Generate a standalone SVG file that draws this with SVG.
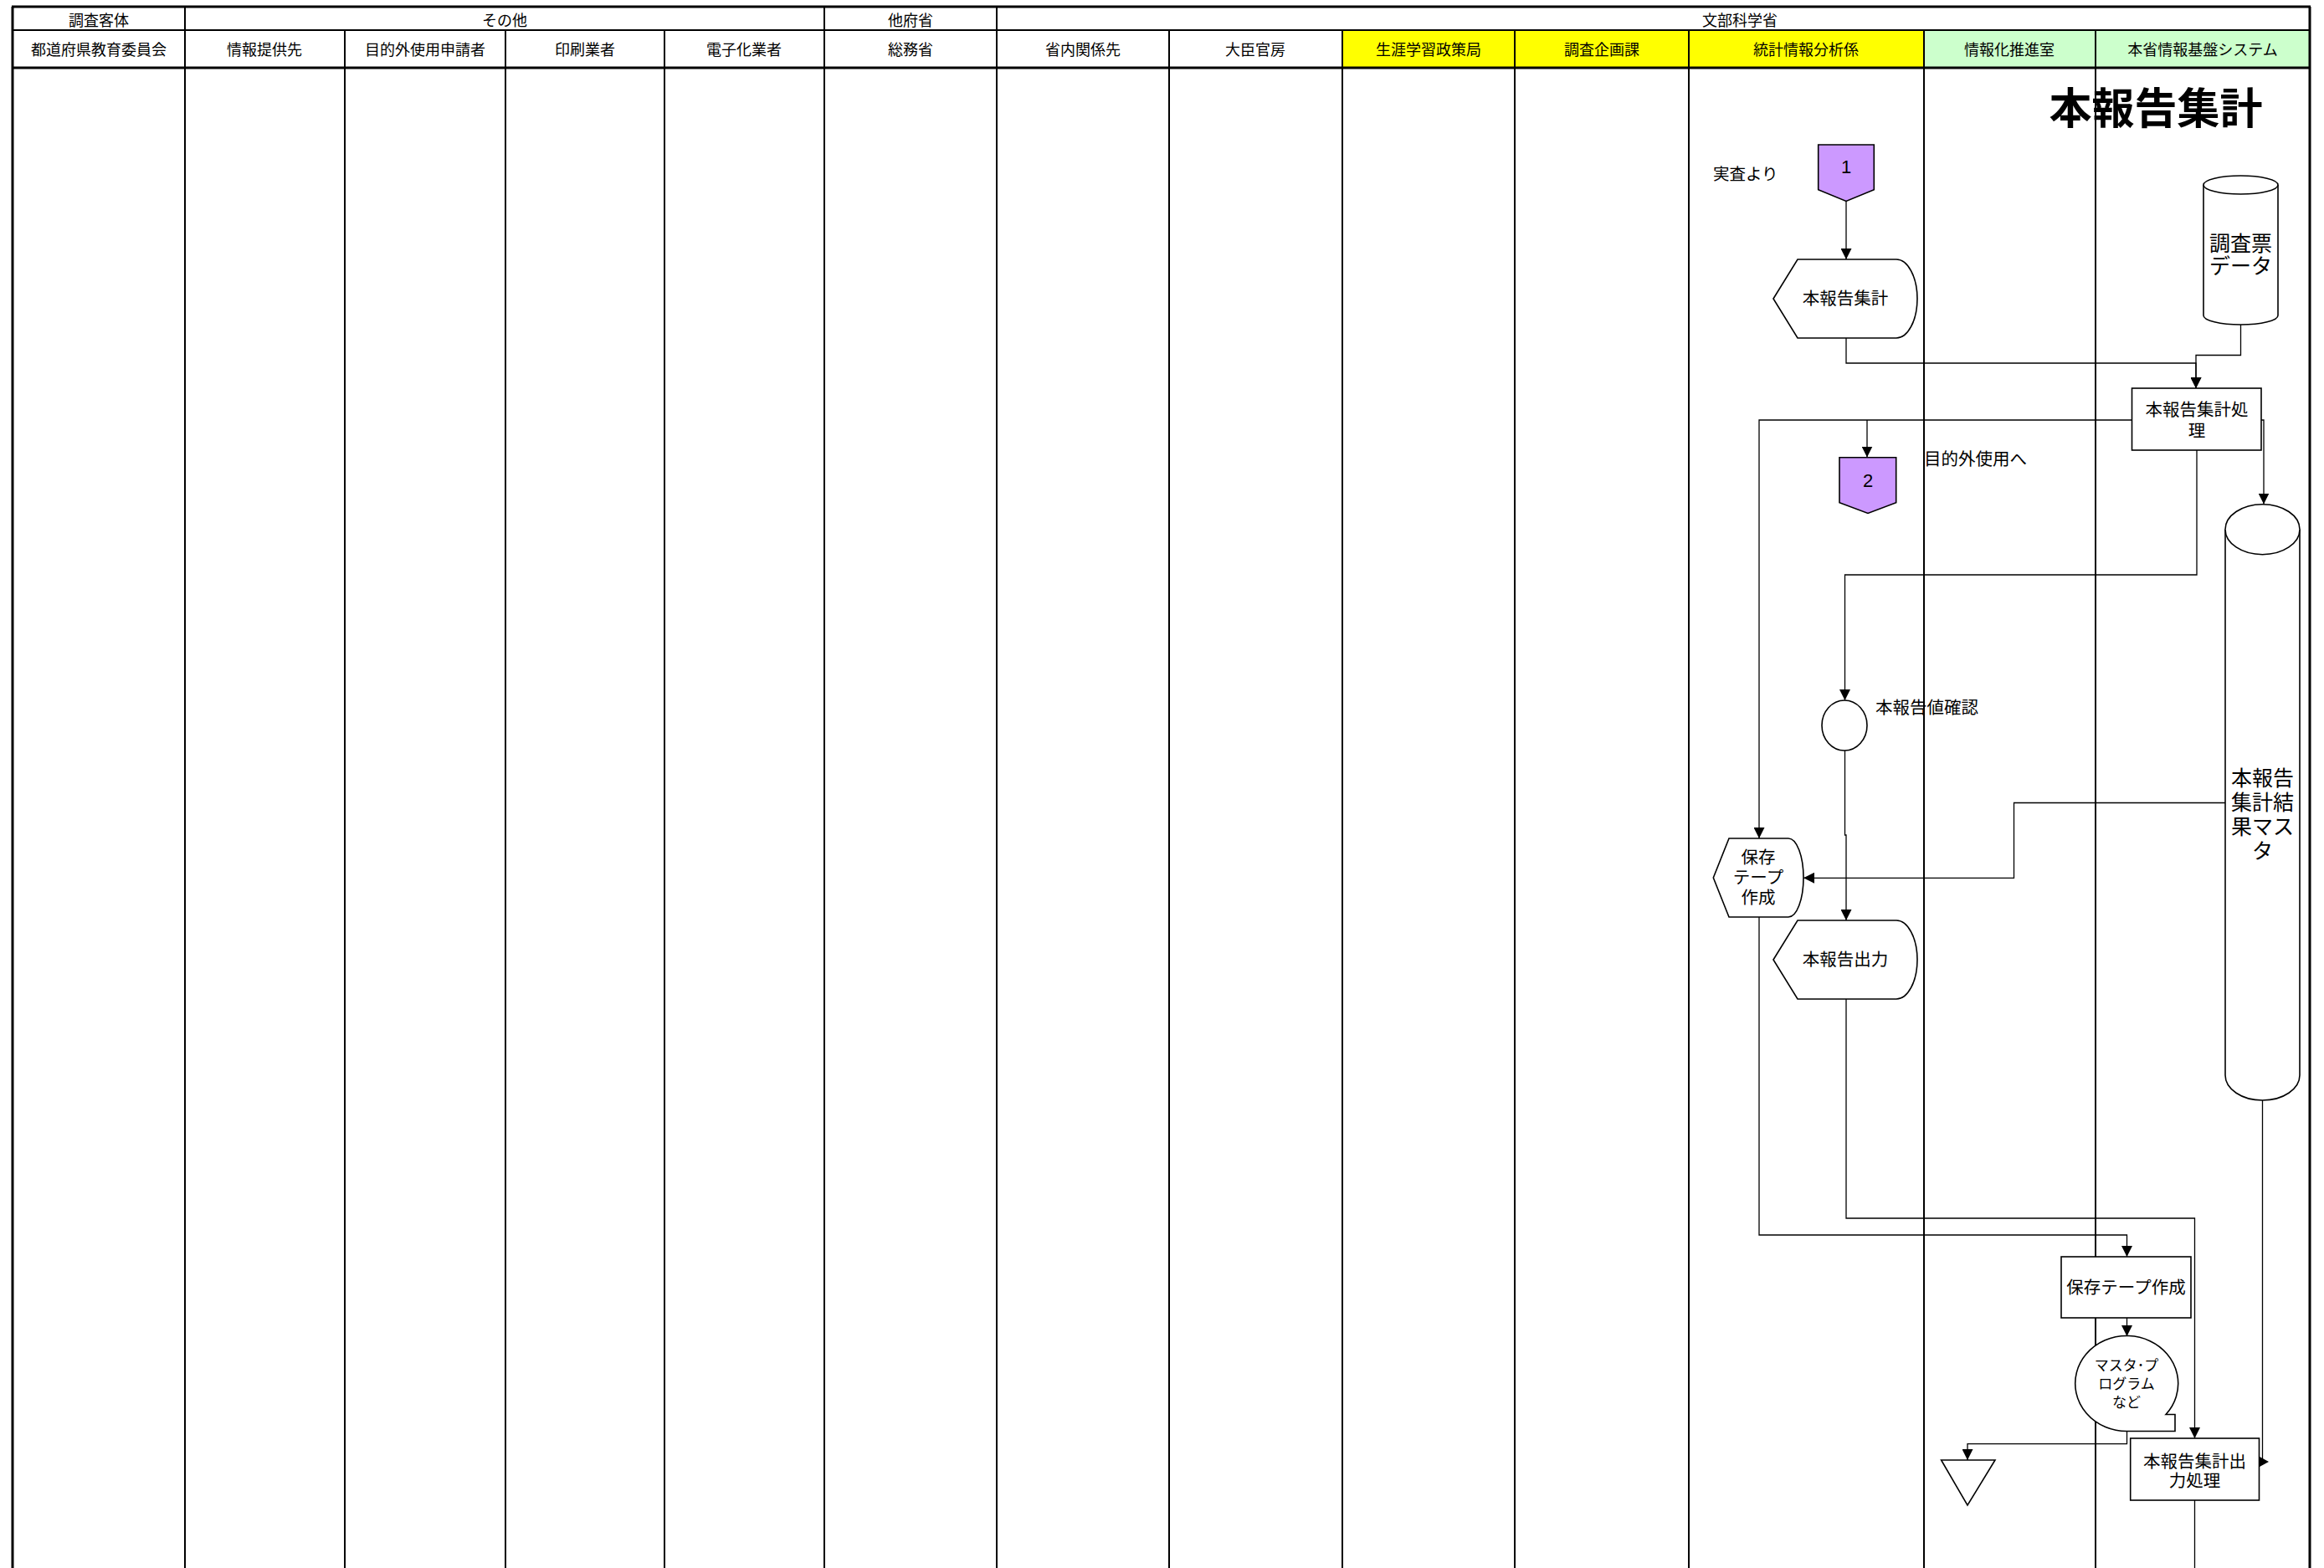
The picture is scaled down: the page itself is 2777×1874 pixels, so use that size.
<svg xmlns="http://www.w3.org/2000/svg" width="2777" height="1874" viewBox="0 0 2777 1874">
<defs>
<marker id="ah" markerUnits="userSpaceOnUse" markerWidth="13" markerHeight="13" refX="13" refY="6.5" orient="auto">
<path d="M0,0 L13,6.5 L0,13 Z" fill="#000"/>
</marker>
</defs>
<style>
text{font-family:"Noto Sans CJK JP","Noto Sans CJK SC",sans-serif;fill:#000;dominant-baseline:central}
.h{font-size:18px;text-anchor:middle}
.t{font-size:20.5px;text-anchor:middle}
.l{font-size:20.5px;text-anchor:start}
.c25{font-size:25px;text-anchor:middle}
.c17{font-size:17px;text-anchor:middle}
.lane{stroke:#000;stroke-width:2;fill:none}
.hb{stroke:#000;stroke-width:3;fill:none}
.shp{stroke:#000;stroke-width:1.6;fill:#fff}
.mk{stroke:#000;stroke-width:1.6;fill:#CC99FF}
.cn{stroke:#000;stroke-width:1.3;fill:none}
.ca{stroke:#000;stroke-width:1.3;fill:none;marker-end:url(#ah)}
.num{font-family:"Liberation Sans",Arial,sans-serif;font-size:22px;text-anchor:middle}
</style>
<rect width="2777" height="1874" fill="#fff"/>
<g id="header">
<rect x="1604" y="36" width="206" height="45" fill="#FFFF00"/>
<rect x="1810" y="36" width="208" height="45" fill="#FFFF00"/>
<rect x="2018" y="36" width="281" height="45" fill="#FFFF00"/>
<rect x="2299" y="36" width="205" height="45" fill="#CCFFCC"/>
<rect x="2504" y="36" width="256" height="45" fill="#CCFFCC"/>
<line class="hb" x1="14" y1="8" x2="2761" y2="8"/>
<line class="lane" x1="15" y1="36" x2="2760" y2="36"/>
<line class="hb" x1="14" y1="81" x2="2761" y2="81"/>
<line class="lane" x1="221" y1="8" x2="221" y2="36"/>
<line class="lane" x1="985" y1="8" x2="985" y2="36"/>
<line class="lane" x1="1191" y1="8" x2="1191" y2="36"/>
<text class="h" x="118" y="23">調査客体</text>
<text class="h" x="603" y="23">その他</text>
<text class="h" x="1088" y="23">他府省</text>
<text class="h" x="2079" y="23">文部科学省</text>
<text class="h" x="118" y="58">都道府県教育委員会</text>
<text class="h" x="316" y="58">情報提供先</text>
<text class="h" x="508" y="58">目的外使用申請者</text>
<text class="h" x="699" y="58">印刷業者</text>
<text class="h" x="889" y="58">電子化業者</text>
<text class="h" x="1088" y="58">総務省</text>
<text class="h" x="1294" y="58">省内関係先</text>
<text class="h" x="1500" y="58">大臣官房</text>
<text class="h" x="1707" y="58">生涯学習政策局</text>
<text class="h" x="1914" y="58">調査企画課</text>
<text class="h" x="2158" y="58">統計情報分析係</text>
<text class="h" x="2401" y="58">情報化推進室</text>
<text class="h" x="2632" y="58">本省情報基盤システム</text>
</g>
<g id="lanes">
<line class="hb" x1="15" y1="8" x2="15" y2="1874"/>
<line class="lane" x1="221" y1="36" x2="221" y2="1874"/>
<line class="lane" x1="412" y1="36" x2="412" y2="1874"/>
<line class="lane" x1="604" y1="36" x2="604" y2="1874"/>
<line class="lane" x1="794" y1="36" x2="794" y2="1874"/>
<line class="lane" x1="985" y1="36" x2="985" y2="1874"/>
<line class="lane" x1="1191" y1="36" x2="1191" y2="1874"/>
<line class="lane" x1="1397" y1="36" x2="1397" y2="1874"/>
<line class="lane" x1="1604" y1="36" x2="1604" y2="1874"/>
<line class="lane" x1="1810" y1="36" x2="1810" y2="1874"/>
<line class="lane" x1="2018" y1="36" x2="2018" y2="1874"/>
<line class="lane" x1="2299" y1="36" x2="2299" y2="1874"/>
<line class="lane" x1="2504" y1="36" x2="2504" y2="1874"/>
<line class="hb" x1="2760" y1="8" x2="2760" y2="1874"/>
</g>
<g id="connectors">
<path class="ca" d="M2206,241 V310"/>
<path class="ca" d="M2206,404 V434 H2624 V464"/>
<path class="ca" d="M2677.5,388 V424.5 H2624 V464"/>
<path class="ca" d="M2547.5,502 H2102 V1002"/>
<path class="ca" d="M2231,502 V546.5"/>
<path class="ca" d="M2702,502 H2705 V602.5"/>
<path class="ca" d="M2625,538 V687 H2204.5 V837"/>
<path class="ca" d="M2204.5,897 V998 H2206 V1100"/>
<path class="ca" d="M2659,959.5 H2406.5 V1049.3 H2155"/>
<path class="ca" d="M2102,1096 V1476 H2541.5 V1502"/>
<path class="ca" d="M2206,1194 V1456 H2622.5 V1719"/>
<path class="ca" d="M2541.5,1575 V1597"/>
<path class="ca" d="M2541.5,1710.5 V1725.7 H2351 V1745"/>
<path class="cn" d="M2703.5,1315 V1747"/>
<path d="M2700,1741 L2711,1747 L2700,1753 Z" fill="#000"/>
<path class="cn" d="M2622.5,1793 V1874"/>
</g>
<g id="title">
<text x="2576" y="126" style="font-size:51px;font-weight:bold;text-anchor:middle">本報告集計</text>
</g>
<g id="label-jissa">
<text class="l" x="2047" y="206" style="font-size:19.5px">実査より</text>
</g>
<g id="marker1">
<path class="mk" d="M2172.7,173 H2239.3 V226.7 L2206,240.5 L2172.7,226.7 Z"/>
<text class="num" x="2206" y="199">1</text>
</g>
<g id="display-honhoukoku-shukei">
<path class="shp" d="M2119,357 L2148,310 H2266 A25,47 0 0 1 2266,404 H2148 Z"/>
<text class="t" x="2205" y="355">本報告集計</text>
</g>
<g id="db-chousahyou">
<path class="shp" d="M2633,221 A44.5,11 0 0 1 2722,221 V377 A44.5,11 0 0 1 2633,377 Z"/>
<path class="shp" d="M2633,221 A44.5,11 0 0 0 2722,221" fill="none"/>
<text class="c25" x="2677.5" y="289"><tspan x="2677.5" y="289">調査票</tspan><tspan x="2677.5" y="316">データ</tspan></text>
</g>
<g id="proc-shukei">
<rect class="shp" x="2547.5" y="464" width="154.5" height="74"/>
<text class="t" x="2625" y="488"><tspan x="2625" y="488">本報告集計処</tspan><tspan x="2625" y="513">理</tspan></text>
</g>
<g id="marker2">
<path class="mk" d="M2198,546.7 H2265.7 V600.7 L2232,613.5 L2198,600.7 Z"/>
<text class="num" x="2232" y="574">2</text>
</g>
<g id="label-mokutekigai">
<text class="l" x="2299" y="547">目的外使用へ</text>
</g>
<g id="db-kekka-master">
<path class="shp" d="M2659,632.7 A44.5,30 0 0 1 2748,632.7 V1285 A44.5,30 0 0 1 2659,1285 Z"/>
<path class="shp" d="M2659,632.7 A44.5,30 0 0 0 2748,632.7" fill="none"/>
<text class="c25" x="2703.5" y="928"><tspan x="2703.5" y="928">本報告</tspan><tspan x="2703.5" y="957">集計結</tspan><tspan x="2703.5" y="986">果マス</tspan><tspan x="2703.5" y="1015">タ</tspan></text>
</g>
<g id="check-honhoukokuchi">
<ellipse class="shp" cx="2204" cy="867" rx="27" ry="30"/>
<text class="l" x="2241" y="844">本報告値確認</text>
</g>
<g id="display-hozon-tape">
<path class="shp" d="M2047.3,1049 L2066,1002 H2137 A18,47 0 0 1 2137,1096 H2066 Z"/>
<text class="t" x="2101" y="1023"><tspan x="2101" y="1023">保存</tspan><tspan x="2101" y="1047">テープ</tspan><tspan x="2101" y="1071">作成</tspan></text>
</g>
<g id="display-honhoukoku-shutsuryoku">
<path class="shp" d="M2119,1147 L2148,1100 H2266 A25,47 0 0 1 2266,1194 H2148 Z"/>
<text class="t" x="2205" y="1145">本報告出力</text>
</g>
<g id="proc-hozon-tape">
<rect class="shp" x="2463" y="1502" width="155" height="73"/>
<text class="t" x="2540.5" y="1537">保存テープ作成</text>
</g>
<g id="tape-master-program">
<path class="shp" d="M2541.5,1710.5 A61.5,57 0 1 1 2588,1690.5 H2599 V1710.5 Z"/>
<text class="c17" x="2541" y="1630"><tspan x="2541" y="1630">マスタ･プ</tspan><tspan x="2541" y="1652">ログラム</tspan><tspan x="2541" y="1674">など</tspan></text>
</g>
<g id="merge-triangle">
<path class="shp" d="M2319.6,1745 H2384 L2351,1799 Z"/>
</g>
<g id="proc-shutsuryoku">
<rect class="shp" x="2545.7" y="1719" width="153.8" height="74"/>
<text class="t" x="2622.5" y="1745"><tspan x="2622.5" y="1745">本報告集計出</tspan><tspan x="2622.5" y="1768">力処理</tspan></text>
</g>
</svg>
